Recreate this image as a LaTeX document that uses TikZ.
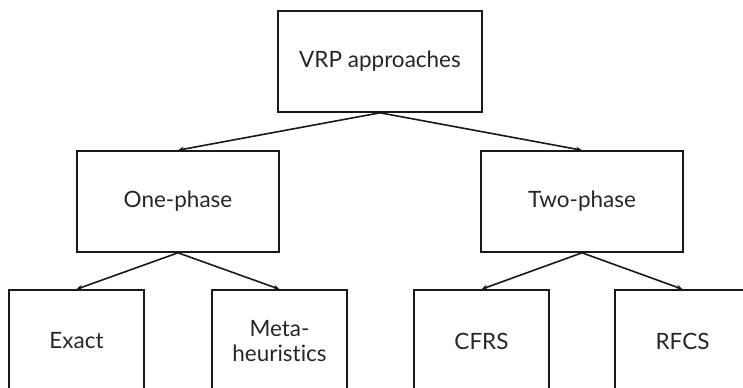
\documentclass[tikz,border=0pt]{standalone}
\usepackage{fontspec}
\setmainfont{Lato}[Ligatures={NoCommon}]
\usetikzlibrary{arrows.meta}
\begin{document}
\begin{tikzpicture}[x=1bp,y=-1bp,
  box/.style={draw=black!90,line width=1.6bp,inner sep=0pt,align=center,
    font=\fontsize{22.5bp}{25bp}\selectfont,text=black!85},
  conn/.style={draw=black!90,line width=1.6bp,-{Stealth[length=6bp,width=5bp]}}]
\useasboundingbox (0,0) rectangle (743,387);
\clip (0,0) rectangle (743,387);
\node[box,minimum width=204bp,minimum height=101bp] (root) at (380,61.5) {VRP approaches};
\node[box,minimum width=202bp,minimum height=101bp] (one) at (178,201.5) {One-phase};
\node[box,minimum width=202bp,minimum height=101bp] (two) at (582,201.5) {Two-phase};
\node[box,minimum width=135bp,minimum height=102bp] (exact) at (76.5,341) {Exact};
\node[box,minimum width=135bp,minimum height=102bp] (meta) at (279.5,341) {Meta-\\heuristics};
\node[box,minimum width=135bp,minimum height=102bp] (cfrs) at (481.5,341) {CFRS};
\node[box,minimum width=135bp,minimum height=102bp] (rfcs) at (682.5,341) {RFCS};
\draw[conn] (root.south) -- (one.north);
\draw[conn] (root.south) -- (two.north);
\draw[conn] (one.south) -- (exact.north);
\draw[conn] (one.south) -- (meta.north);
\draw[conn] (two.south) -- (cfrs.north);
\draw[conn] (two.south) -- (rfcs.north);
\end{tikzpicture}
\end{document}
